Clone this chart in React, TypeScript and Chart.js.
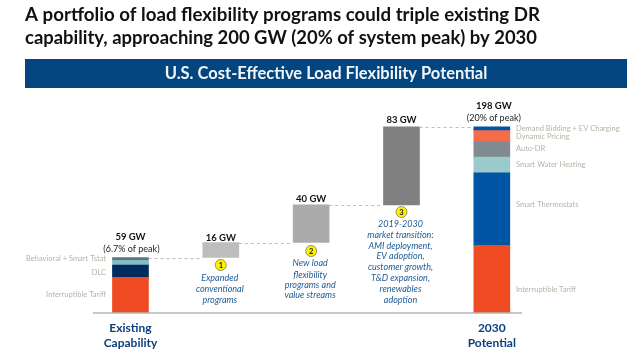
import React, { useEffect, useRef } from "react";
import { Chart, registerables } from "chart.js";

Chart.register(...registerables);

const categories = [["Existing", "Capability"], "", "", "", ["2030", "Potential"]];
const spacer = [null, 59, 75, 115, null];
const increments = [null, 16, 40, 83, null];
const interruptibleTariff = [38, null, null, null, 72];
const dlcOrThermostats = [13, null, null, null, 77];
const behavioralOrWater = [5, null, null, null, 17];
const smartTstatOrAutoDr = [3, null, null, null, 16];
const dynamicPricing = [null, null, null, null, 12];
const demandBidding = [null, null, null, null, 4];
const connectorLevels = [59, 75, 115, 198];
const titleLines = [
  "A portfolio of load flexibility programs could triple existing DR",
  "capability, approaching 200 GW (20% of system peak) by 2030",
];
const bannerText = "U.S. Cost-Effective Load Flexibility Potential";
const totals = ["59 GW", "16 GW", "40 GW", "83 GW", "198 GW"];
const existingLabels = ["Interruptible Tariff", "DLC", "Behavioral + Smart Tstat"];
const potentialLabels = [
  "Interruptible Tariff",
  "Smart Thermostats",
  "Smart Water Heating",
  "Auto-DR",
  "Dynamic Pricing",
  "Demand Bidding + EV Charging",
];
const notes = [
  ["Expanded", "conventional", "programs"],
  ["New load", "flexibility", "programs and", "value streams"],
  ["2019-2030", "market transition:", "AMI deployment,", "EV adoption,", "customer growth,", "T&D expansion,", "renewables", "adoption"],
];

const FONT = "Lato, 'Open Sans', sans-serif";
const BAR = 36;

const overlay = {
  id: "overlay",
  afterDatasetsDraw(chart: any) {
    const { ctx } = chart;
    const x = chart.scales.x;
    const y = chart.scales.y;
    const cx = (i: number) => x.getPixelForValue(i);
    const text = (s: string, px: number, py: number, font: string, color: string, align: CanvasTextAlign = "center", maxW?: number) => {
      ctx.font = font;
      ctx.fillStyle = color;
      ctx.textAlign = align;
      ctx.textBaseline = "middle";
      if (maxW) ctx.fillText(s, px, py, maxW);
      else ctx.fillText(s, px, py);
    };
    ctx.save();

    // title and banner
    titleLines.forEach((l, i) => text(l, 25, 14.5 + i * 23.2, `bold 19.5px ${FONT}`, "#111111", "left", i === 0 ? 515 : 512));
    ctx.fillStyle = "#03467F";
    ctx.fillRect(25, 59, 602, 29);
    text(bannerText, 326, 73.5, `bold 16.5px ${FONT}`, "#F2F6FA");

    // baseline
    ctx.strokeStyle = "#B5B5B5";
    ctx.lineWidth = 1.5;
    ctx.beginPath();
    ctx.moveTo(93, y.getPixelForValue(0));
    ctx.lineTo(522, y.getPixelForValue(0));
    ctx.stroke();

    // dashed connectors
    ctx.strokeStyle = "#BDBDBD";
    ctx.lineWidth = 1;
    ctx.setLineDash([3, 3]);
    connectorLevels.forEach((lvl, i) => {
      const py = Math.round(y.getPixelForValue(lvl)) + 0.5;
      ctx.beginPath();
      ctx.moveTo(cx(i) + BAR / 2, py);
      ctx.lineTo(cx(i + 1) - BAR / 2, py);
      ctx.stroke();
    });
    ctx.setLineDash([]);

    // totals
    const bold = `bold 9.5px ${FONT}`;
    const reg = `9px ${FONT}`;
    text(totals[0], cx(0), 237, bold, "#111111");
    text("(6.7% of peak)", cx(0) + 1, 249, reg, "#222222");
    text(totals[1], cx(1), 238, bold, "#111111");
    text(totals[2], cx(2), 199, bold, "#111111");
    text(totals[3], cx(3), 120, bold, "#111111");
    text(totals[4], cx(4) + 2, 106, bold, "#111111");
    text("(20% of peak)", cx(4) + 2, 118, reg, "#222222");

    // side labels
    const side = `7.5px ${FONT}`;
    const sideColor = "#B4B4A6";
    [295, 273, 259].forEach((py, i) => text(existingLabels[i], 106, py, side, sideColor, "right"));
    [290, 205, 165, 149, 137, 129].forEach((py, i) => text(potentialLabels[i], 516, py, side, sideColor, "left"));

    // numbered markers and notes
    const circleY = [265, 251, 212];
    const noteY = [
      [278, 289, 300],
      [263, 275, 285, 295],
      [224, 235, 246, 256, 267, 278, 289, 300],
    ];
    notes.forEach((lines, n) => {
      const c = cx(n + 1);
      ctx.beginPath();
      ctx.arc(c, circleY[n], 5.5, 0, Math.PI * 2);
      ctx.fillStyle = "#FFF200";
      ctx.fill();
      ctx.strokeStyle = "#6E6E50";
      ctx.lineWidth = 0.7;
      ctx.stroke();
      text(String(n + 1), c, circleY[n] + 0.5, `bold 7.5px ${FONT}`, "#222222");
      lines.forEach((l, i) => text(l, c - 1, noteY[n][i], `italic 9px ${FONT}`, "#1F5A94"));
    });
    ctx.restore();
  },
};

export default function App() {
  const ref = useRef<HTMLCanvasElement>(null);
  useEffect(() => {
    const common = { barThickness: BAR, stack: "s", borderWidth: 0 };
    const chart = new Chart(ref.current!, {
      type: "bar",
      data: {
        labels: categories as any,
        datasets: [
          { ...common, label: "Offset", data: spacer, backgroundColor: "rgba(0,0,0,0)" },
          { ...common, label: "Added", data: increments, backgroundColor: ["#000", "#BDBDBD", "#ABABAB", "#808080", "#000"] },
          { ...common, label: "Interruptible Tariff", data: interruptibleTariff, backgroundColor: "#F04C23" },
          { ...common, label: "DLC / Smart Thermostats", data: dlcOrThermostats, backgroundColor: ["#002B5C", "#000", "#000", "#000", "#0054A4"] },
          { ...common, label: "Behavioral / Smart Water Heating", data: behavioralOrWater, backgroundColor: ["#86BCC6", "#000", "#000", "#000", "#9BCACD"] },
          { ...common, label: "Smart Tstat / Auto-DR", data: smartTstatOrAutoDr, backgroundColor: ["#5C7680", "#000", "#000", "#000", "#808A90"] },
          { ...common, label: "Dynamic Pricing", data: dynamicPricing, backgroundColor: "#F46C4C" },
          { ...common, label: "Demand Bidding + EV Charging", data: demandBidding, backgroundColor: "#0054A4" },
        ],
      },
      options: {
        animation: false,
        responsive: false,
        layout: { padding: { left: 85.3, right: 103, top: 125, bottom: 0 } },
        plugins: { legend: { display: false }, tooltip: { enabled: false }, title: { display: false } },
        scales: {
          x: {
            stacked: true,
            grid: { display: false },
            border: { display: false },
            afterFit: (s: any) => { s.height = 47; },
            ticks: {
              autoSkip: false,
              maxRotation: 0,
              padding: -1,
              color: "#0B3F7E",
              font: { family: FONT, size: 12, weight: "bold", lineHeight: 1.3 },
            },
          },
          y: { stacked: true, display: false, min: 0, max: 200 },
        },
      } as any,
      plugins: [overlay],
    });
    return () => chart.destroy();
  }, []);
  return (
    <div style={{ position: "fixed", left: 0, top: 0, width: 640, height: 360, background: "#fff" }}>
      <canvas ref={ref} width={640} height={360} style={{ display: "block" }} />
    </div>
  );
}
